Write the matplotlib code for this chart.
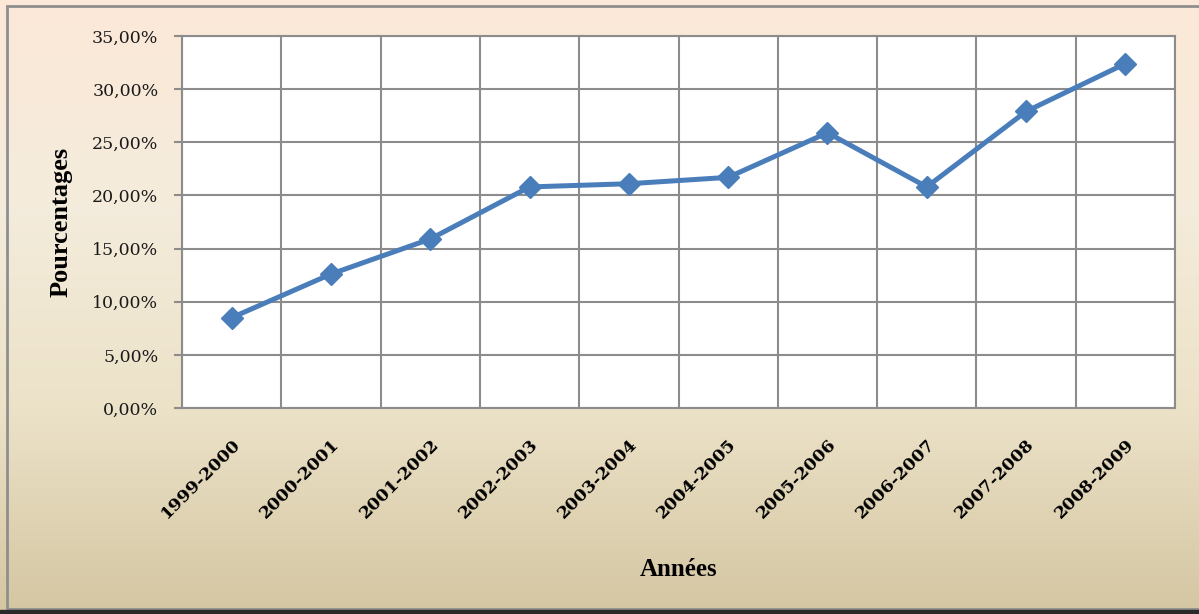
import numpy as np
import matplotlib.pyplot as plt
from matplotlib.colors import LinearSegmentedColormap
from matplotlib.patches import Rectangle

annees = ["1999-2000", "2000-2001", "2001-2002", "2002-2003", "2003-2004",
          "2004-2005", "2005-2006", "2006-2007", "2007-2008", "2008-2009"]
pourcentages = [8.5, 12.6, 15.9, 20.8, 21.1, 21.7, 25.9, 20.8, 27.9, 32.4]
y_ticks = [0, 5, 10, 15, 20, 25, 30, 35]

fig = plt.figure(figsize=(11.99, 6.14), dpi=100)

# background gradient (peach -> cream -> tan)
bg = fig.add_axes([0, 0, 1, 1], zorder=-10)
cmap = LinearSegmentedColormap.from_list(
    "bg", ["#fce8d8", "#f4ecdc", "#ece2c8", "#d4c6a2"])
grad = np.linspace(0, 1, 256).reshape(-1, 1)
bg.imshow(grad, aspect="auto", cmap=cmap, extent=[0, 1, 0, 1], origin="upper")
bg.add_patch(Rectangle((7 / 1199, 5 / 614), 1.2, 603 / 614, fill=False,
                       edgecolor="#8f8f8f", linewidth=2))
bg.add_patch(Rectangle((0, 0), 1, 4 / 614, color="#2a2a2a"))
bg.set_xlim(0, 1)
bg.set_ylim(0, 1)
bg.axis("off")

ax = fig.add_axes([182 / 1199, 206 / 614, 993 / 1199, 372 / 614])
ax.set_facecolor("white")
x = np.arange(len(annees))
ax.plot(x, pourcentages, "D-", color="#4a7ebb", linewidth=3.6,
        markersize=11, zorder=3, clip_on=False)

ax.set_xlim(-0.5, len(annees) - 0.5)
ax.set_ylim(0, 35)
ax.set_yticks(y_ticks)
ax.set_yticklabels([f"{v:.2f}".replace(".", ",") + "%" for v in y_ticks],
                   fontfamily="DejaVu Serif", fontsize=12.5, color="#1a1a1a")
ax.set_xticks(x)
ax.set_xticklabels(annees, rotation=45, ha="right", rotation_mode="anchor",
                   fontfamily="DejaVu Serif", fontsize=12.5, fontweight="bold")
ax.set_xticks(np.arange(-0.5, len(annees)), minor=True)
ax.tick_params(axis="x", which="major", length=0, pad=20)
ax.tick_params(axis="x", which="minor", length=0)
ax.tick_params(axis="y", length=6, width=1.5, color="#8c8c8c", pad=11)
ax.grid(True, axis="x", which="minor", color="#8c8c8c", linewidth=1.5)
ax.grid(True, axis="y", which="major", color="#8c8c8c", linewidth=1.5)
for s in ax.spines.values():
    s.set_color("#8c8c8c")
    s.set_linewidth(1.5)

ax.set_ylabel("Pourcentages", fontfamily="Liberation Serif", fontweight="bold",
              fontsize=19, labelpad=14)
ax.set_xlabel("Années", fontfamily="Liberation Serif", fontweight="bold",
              fontsize=18, labelpad=26)

fig.savefig("out.png", dpi=100)
